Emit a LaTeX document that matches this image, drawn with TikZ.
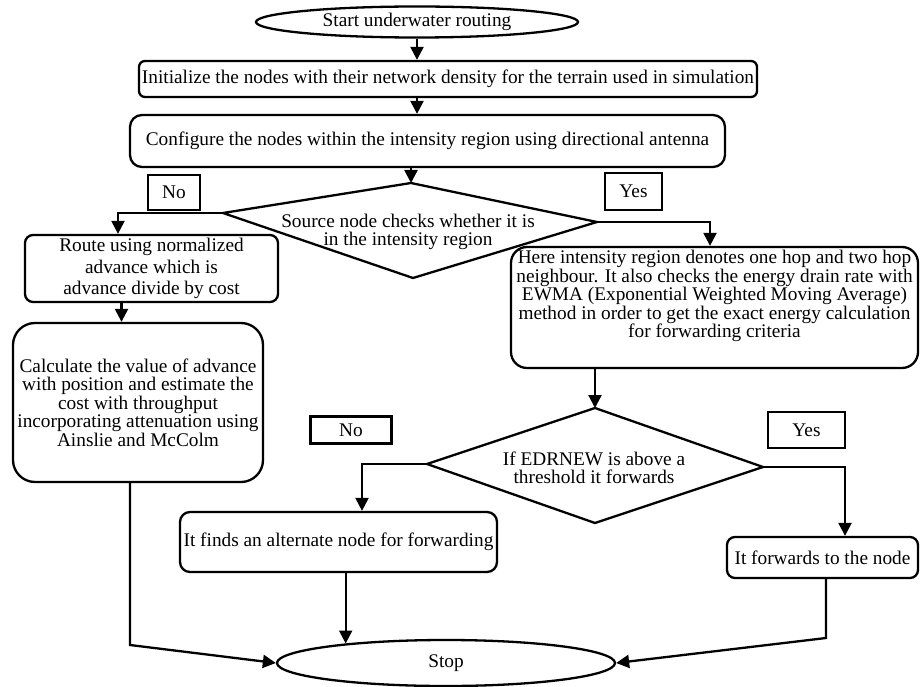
\documentclass[tikz,border=0pt]{standalone}
\usepackage{fontspec}
\setmainfont{Liberation Serif}
\usetikzlibrary{shapes.geometric,arrows.meta}

\begin{document}
\begin{tikzpicture}[
  x=1pt, y=-1pt,
  font=\fontsize{19.3}{18.5}\selectfont,
  line width=2.3pt,
  blk/.style={rectangle, draw, rounded corners=#1, inner sep=2pt, align=center},
  blk/.default=8pt,
  term/.style={ellipse, draw, inner sep=0pt},
  lbl/.style={rectangle, draw, inner sep=0pt},
  ar/.style={-{Triangle[length=13pt, width=13pt]}}
]
\useasboundingbox (0,0) rectangle (920,687);
\node[term, minimum width=322pt, minimum height=31pt] (start) at (417,22)   {Start underwater routing};
\node[blk=6pt, minimum width=618pt, minimum height=36pt] (init) at (448,79) {Initialize the nodes with their network density for the terrain used in simulation};
\node[blk=12pt, minimum width=595pt, minimum height=52pt] (conf) at (427.5,141) {Configure the nodes within the intensity region using directional antenna};
\coordinate (d1t) at (411,183);
\coordinate (d1l) at (223,213);
\coordinate (d1r) at (597,222);
\coordinate (d1b) at (413,278);
\draw (d1t) -- (d1r) -- (d1b) -- (d1l) -- cycle;
\node[align=center] (d1txt) at (408,232) {Source node checks whether it is\\in the intensity region};
\node[lbl, minimum width=52pt, minimum height=35pt] (no1)  at (174,192.5) {No};
\node[lbl, minimum width=57pt, minimum height=37pt] (yes1) at (633.5,191.5) {Yes};
\node[blk=8pt, minimum width=253pt, minimum height=67pt, font=\fontsize{19.3}{21.5}\selectfont] (route) at (151.5,268.5) {Route using normalized\\advance which is\\advance divide by cost};
\node[blk=22pt, minimum width=250pt, minimum height=159pt] (calc) at (138,402.5) {Calculate the value of advance\\with position and estimate the\\cost with throughput\\incorporating attenuation using\\Ainslie and McColm};
\node[blk=16pt, minimum width=407pt, minimum height=121pt] (here) at (714.5,307.5) {};
\node[align=center, anchor=north, inner sep=0pt] (heretxt) at (714.5,249) {Here intensity region denotes one hop and two hop\\neighbour. It also checks the energy drain rate with\\EWMA (Exponential Weighted Moving Average)\\method in order to get the exact energy calculation\\for forwarding criteria};
\coordinate (d2t) at (595,408);
\coordinate (d2l) at (427,464);
\coordinate (d2r) at (763,467);
\coordinate (d2b) at (595,523);
\draw (d2t) -- (d2r) -- (d2b) -- (d2l) -- cycle;
\node[align=center] (d2txt) at (594,468) {If EDRNEW is above a\\threshold it forwards};
\node[lbl, minimum width=81pt, minimum height=27pt] (no2)  at (351,430) {No};
\node[lbl, minimum width=77pt, minimum height=36pt] (yes2) at (806.5,430) {Yes};
\node[blk=10pt, minimum width=317pt, minimum height=60pt] (alt) at (338.5,542) {It finds an alternate node for forwarding};
\node[blk=8pt, minimum width=191pt, minimum height=41pt] (fwd) at (822.5,557.5) {It forwards to the node};
\node[term, minimum width=338pt, minimum height=46pt] (stop) at (446,663) {Stop};
\coordinate (lbend) at (130,645);
\coordinate (rbend) at (826,638);
\draw[ar] (start.south) -- (start.south |- init.north); \draw[ar] (init.south -| start.south) -- (conf.north -| start.south);
\draw[ar] (conf.south -| d1t) -- (d1t);
\draw[ar] (d1l) -| ([xshift=-33.5pt]route.north); \draw[ar] (d1r) -| ([xshift=-4.5pt]here.north);
\draw[ar] ([xshift=-30pt]route.south) -- ([xshift=-30pt]route.south |- calc.north);
\draw[ar] (here.south -| d2t) -- (d2t);
\draw[ar] (d2l) -| ([xshift=23.5pt]alt.north); \draw[ar] (d2r) -| ([xshift=22.5pt]fwd.north);
\draw[ar] (alt.south -| stop.169) -- (stop.169);
\draw[ar] (calc.south -| lbend) -- (lbend) -- (stop.west);
\draw[ar] (fwd.south -| rbend) -- (rbend) -- (stop.east);
\end{tikzpicture}
\end{document}
